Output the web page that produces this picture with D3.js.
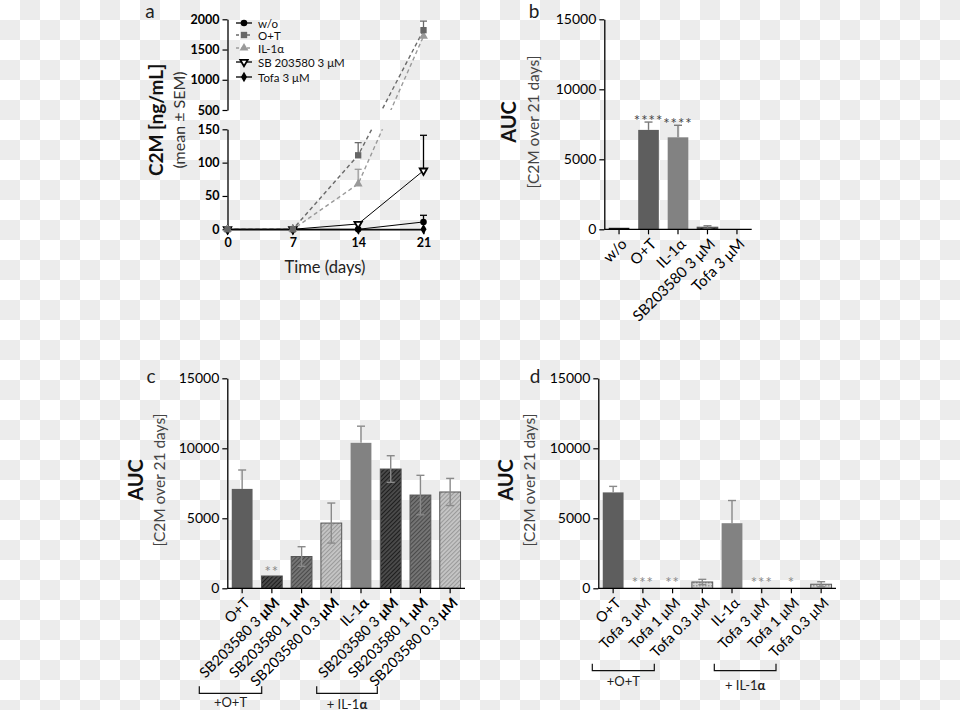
<!DOCTYPE html>
<html><head><meta charset="utf-8">
<script src="https://cdn.jsdelivr.net/npm/d3@7"></script>
<style>
body{margin:0;background:#fff}
svg{display:block}
text{font-family:Lato,"Open Sans",sans-serif}
</style></head>
<body><svg id="fig" width="960" height="710"></svg>
<script>
// ---------------- DATA ----------------
const days = [0, 7, 14, 21];
const legendNames = ["w/o", "O+T", "IL-1α", "SB 203580 3 μM", "Tofa 3 μM"];
const woVals   = [0, 0, 0, 11];    const woErr   = [0, 0, 0, 10];
const otVals   = [0, 0, 111, 1820]; const otErr   = [0, 0, 19, 150];
const ilVals   = [0, 0, 68, 1720];  const ilErr   = [0, 0, 22, 0];
const sbVals   = [0, 0, 8, 88];     const sbErr   = [0, 0, 0, 53];
const tofaVals = [0, 0, 0, 0];      const tofaErr = [0, 0, 0, 0];
const aLowTicks = [0, 50, 100, 150];
const aHighTicks = [500, 1000, 1500, 2000];

const bCats  = ["w/o", "O+T", "IL-1α", "SB203580 3 μM", "Tofa 3 μM"];
const bVals  = [60, 7100, 6570, 150, 0];
const bErr   = [0, 560, 860, 100, 0];
const bStars = ["", "****", "****", "", ""];

const cCats  = ["O+T", "SB203580 3 μM", "SB203580 1 μM", "SB203580 0.3 μM", "IL-1α", "SB203580 3 μM", "SB203580 1 μM", "SB203580 0.3 μM"];
const cVals  = [7100, 880, 2270, 4660, 10390, 8520, 6660, 6880];
const cErr   = [1350, 0, 700, 1430, 1190, 950, 1410, 970];
const cStars = ["", "**", "", "", "", "", "", ""];

const dCats  = ["O+T", "Tofa 3 μM", "Tofa 1 μM", "Tofa 0.3 μM", "IL-1α", "Tofa 3 μM", "Tofa 1 μM", "Tofa 0.3 μM"];
const dVals  = [6850, 0, 0, 450, 4650, 0, 0, 290];
const dErr   = [430, 0, 0, 190, 1620, 0, 0, 180];
const dStars = ["", "***", "**", "", "", "***", "*", ""];

const aucTicks = [0, 5000, 10000, 15000];
const groupLabels = ["+O+T", "+ IL-1α"];

// ---------------- SETUP ----------------
const svg = d3.select("#fig");
const defs = svg.append("defs");
const chk = defs.append("pattern").attr("id", "chk").attr("patternUnits", "userSpaceOnUse").attr("width", 40).attr("height", 40);
chk.append("rect").attr("width", 40).attr("height", 40).attr("fill", "#fff");
chk.append("rect").attr("x", 20).attr("width", 20).attr("height", 20).attr("fill", "#ececec");
chk.append("rect").attr("y", 20).attr("width", 20).attr("height", 20).attr("fill", "#ececec");
svg.append("rect").attr("width", 960).attr("height", 710).attr("fill", "url(#chk)");

function hatch(id, bg, fg, size, w) {
  const p = defs.append("pattern").attr("id", id).attr("patternUnits", "userSpaceOnUse")
    .attr("width", size).attr("height", size).attr("patternTransform", "rotate(45)");
  p.append("rect").attr("width", size).attr("height", size).attr("fill", bg);
  p.append("line").attr("x1", 0.5).attr("y1", 0).attr("x2", 0.5).attr("y2", size).attr("stroke", fg).attr("stroke-width", w);
}
hatch("hDark", "#4c4c4c", "#1e1e1e", 3, 1.2);
hatch("hMid", "#767676", "#4a4a4a", 3, 1.2);
hatch("hLight", "#c6c6c6", "#9a9a9a", 3, 1.2);
const cx = defs.append("pattern").attr("id", "hCross").attr("patternUnits", "userSpaceOnUse").attr("width", 3).attr("height", 3);
cx.append("rect").attr("width", 3).attr("height", 3).attr("fill", "#d2d2d2");
cx.append("rect").attr("width", 1.5).attr("height", 1.5).attr("fill", "#9c9c9c");

const fmt = d3.format("d");
function styleAxis(g, fs, bold) {
  g.selectAll(".domain").attr("stroke", "#000").attr("stroke-width", 1.3);
  g.selectAll(".tick line").attr("stroke", "#000").attr("stroke-width", 1.2);
  g.selectAll(".tick text").attr("font-size", fs).attr("fill", "#000")
    .attr("font-weight", bold ? "bold" : "normal").style("font-family", "Lato, 'Open Sans', sans-serif");
}
function rich(sel, str, boldSpecial) {
  str.split(/(μM|α)/).forEach(p => {
    if (!p) return;
    const t = sel.append("tspan").text(p);
    if (boldSpecial && (p === "μM" || p === "α")) t.attr("font-weight", "bold");
  });
}
function vTitle(x, y, txt, fs, bold, fill) {
  svg.append("text").attr("transform", `translate(${x},${y}) rotate(-90)`).attr("text-anchor", "middle")
    .attr("dominant-baseline", "central").attr("font-size", fs).attr("font-weight", bold ? "bold" : "normal")
    .attr("fill", fill).text(txt);
}
function panelLetter(x, y, t) {
  svg.append("text").attr("x", x).attr("y", y).attr("font-size", 19).attr("fill", "#222").attr("text-anchor", "middle").text(t);
}

// ---------------- PANEL A ----------------
const xA = d3.scaleLinear().domain([0, 21]).range([227.5, 423.5]);
const yLow = d3.scaleLinear().domain([0, 150]).range([229.3, 129.3]);
const yHigh = d3.scaleLinear().domain([500, 2000]).range([110, 19.3]);
const yA = v => v <= 150 ? yLow(v) : yHigh(v);

const clip = defs.append("clipPath").attr("id", "aclip");
clip.append("rect").attr("x", 200).attr("y", 0).attr("width", 260).attr("height", yHigh(500));
clip.append("rect").attr("x", 200).attr("y", yLow(150)).attr("width", 260).attr("height", 120);

const gLow = svg.append("g").attr("transform", `translate(${xA(0)},0)`)
  .call(d3.axisLeft(yLow).tickValues(aLowTicks).tickFormat(fmt).tickSize(5).tickSizeOuter(0).tickPadding(3));
styleAxis(gLow, 12.5, true);
const gHigh = svg.append("g").attr("transform", `translate(${xA(0)},0)`)
  .call(d3.axisLeft(yHigh).tickValues(aHighTicks).tickFormat(fmt).tickSize(5).tickSizeOuter(0).tickPadding(3));
styleAxis(gHigh, 12.5, true);
const gxA = svg.append("g").attr("transform", `translate(0,${yLow(0)})`)
  .call(d3.axisBottom(xA).tickValues(days).tickSize(5).tickSizeOuter(0).tickPadding(4));
styleAxis(gxA, 12.5, true);

const seriesA = [
  {vals: woVals, err: woErr, color: "#000", dash: null, sym: d3.symbolCircle, size: 34, fill: "#000", sw: 1, rot: 0},
  {vals: otVals, err: otErr, color: "#6a6a6a", dash: "4,3", sym: d3.symbolSquare, size: 40, fill: "#666", sw: 1.4, rot: 0},
  {vals: ilVals, err: ilErr, color: "#9a9a9a", dash: "4,3", sym: d3.symbolTriangle, size: 34, fill: "#9a9a9a", sw: 1.4, rot: 0},
  {vals: sbVals, err: sbErr, color: "#000", dash: null, sym: d3.symbolTriangle, size: 24, fill: "#fff", sw: 1, rot: 180},
  {vals: tofaVals, err: tofaErr, color: "#000", dash: null, sym: d3.symbolDiamond, size: 32, fill: "#000", sw: 1, rot: 0}
];
const aPlot = svg.append("g").attr("clip-path", "url(#aclip)");
const lineA = d3.line().x((d, i) => xA(days[i])).y(d => yA(d));
seriesA.forEach(s => {
  aPlot.append("path").attr("d", lineA(s.vals)).attr("fill", "none").attr("stroke", s.color)
    .attr("stroke-width", s.sw).attr("stroke-dasharray", s.dash);
});
seriesA.forEach(s => {
  s.vals.forEach((v, i) => {
    if (!s.err[i]) return;
    const x = xA(days[i]), y1 = yA(v), y2 = yA(v + s.err[i]);
    svg.append("line").attr("x1", x).attr("x2", x).attr("y1", y1).attr("y2", y2).attr("stroke", s.color).attr("stroke-width", 1.3);
    svg.append("line").attr("x1", x - 3.5).attr("x2", x + 3.5).attr("y1", y2).attr("y2", y2).attr("stroke", s.color).attr("stroke-width", 1.3);
  });
});
function marker(g, s, x, y) {
  const p = g.append("path").attr("d", d3.symbol(s.sym, s.size)())
    .attr("transform", `translate(${x},${y}) rotate(${s.rot})`).attr("fill", s.fill);
  if (s.fill === "#fff") p.attr("stroke", "#000").attr("stroke-width", 1.8);
}
[0, 4, 3, 2, 1].forEach(k => {
  const s = seriesA[k];
  s.vals.forEach((v, i) => marker(svg, s, xA(days[i]), yA(v)));
});
// legend
const legY = [23, 35, 48, 62, 77];
legendNames.forEach((n, i) => {
  const s = seriesA[i];
  svg.append("line").attr("x1", 236).attr("x2", 252).attr("y1", legY[i]).attr("y2", legY[i])
    .attr("stroke", s.color).attr("stroke-width", s.dash ? 1.4 : 1.3).attr("stroke-dasharray", s.dash ? "3,2.5" : null);
  marker(svg, s, 244, legY[i]);
  svg.append("text").attr("x", 258).attr("y", legY[i]).attr("dominant-baseline", "central")
    .attr("font-size", 11.5).attr("fill", "#111").text(n);
});
vTitle(155, 120, "C2M [ng/mL]", 19, true, "#111");
vTitle(178, 120, "(mean ± SEM)", 16, false, "#333");
svg.append("text").attr("x", 325).attr("y", 273).attr("text-anchor", "middle").attr("font-size", 16.5).attr("fill", "#222").text("Time (days)");
panelLetter(150, 18, "a");

// ---------------- BAR PANEL FUNCTION ----------------
function barPanel(opt) {
  const y = d3.scaleLinear().domain([0, 15000]).range([opt.y0, opt.y0 - 210]);
  const x = d3.scaleBand().domain(d3.range(opt.cats.length)).range([opt.x0, opt.x1]).paddingInner(0.3).paddingOuter(0.15);
  const gy = svg.append("g").attr("transform", `translate(${opt.x0},0)`)
    .call(d3.axisLeft(y).tickValues(aucTicks).tickFormat(fmt).tickSize(5).tickSizeOuter(0).tickPadding(3));
  styleAxis(gy, 14, false);
  opt.vals.forEach((v, i) => {
    const fill = opt.fills[i];
    const hatched = fill.startsWith("url");
    const h = Math.max(y(0) - y(v), v > 0 ? 1.5 : 0);
    if (h > 0) svg.append("rect").attr("x", x(i)).attr("width", x.bandwidth()).attr("y", y(0) - h).attr("height", h)
      .attr("fill", fill).attr("stroke", hatched ? "#555" : "none").attr("stroke-width", 1);
    const e = opt.err[i];
    if (e) {
      const c = x(i) + x.bandwidth() / 2;
      const ylo = hatched ? y(v - e) : y(v);
      svg.append("line").attr("x1", c).attr("x2", c).attr("y1", ylo).attr("y2", y(v + e)).attr("stroke", opt.errColor).attr("stroke-width", 1.4);
      svg.append("line").attr("x1", c - 4).attr("x2", c + 4).attr("y1", y(v + e)).attr("y2", y(v + e)).attr("stroke", opt.errColor).attr("stroke-width", 1.4);
      if (hatched) svg.append("line").attr("x1", c - 4).attr("x2", c + 4).attr("y1", ylo).attr("y2", ylo).attr("stroke", opt.errColor).attr("stroke-width", 1.4);
    }
    if (opt.stars[i]) {
      svg.append("text").attr("x", x(i) + x.bandwidth() / 2).attr("y", y(v + e) + opt.starDy).attr("text-anchor", "middle")
        .attr("font-size", 15).attr("letter-spacing", 1).attr("fill", opt.starColor).text(opt.stars[i]);
    }
  });
  const gx = svg.append("g").attr("transform", `translate(0,${opt.y0})`)
    .call(d3.axisBottom(x).tickSize(5).tickSizeOuter(0).tickFormat(""));
  styleAxis(gx, 12, false);
  gx.select(".domain").attr("d", `M${opt.x0},0H${opt.x1}`);
  opt.cats.forEach((c, i) => {
    const t = svg.append("text").attr("transform", `translate(${x(i) + x.bandwidth() / 2 + 5},${opt.y0 + 12}) rotate(-45)`)
      .attr("text-anchor", "end").attr("dy", "0.35em").attr("font-size", opt.labelSize).attr("fill", "#000");
    rich(t, c, opt.boldSpecial);
  });
  return x;
}

// ---------------- PANEL B ----------------
barPanel({x0: 604.3, x1: 751.7, y0: 229.3, cats: bCats, vals: bVals, err: bErr, stars: bStars, labelSize: 15, starDy: 4,
  fills: ["#111", "#5e5e5e", "#828282", "url(#hDark)", "#333"], errColor: "#7a7a7a", starColor: "#444", boldSpecial: false});
vTitle(508, 122, "AUC", 20, true, "#111");
vTitle(533, 122, "[C2M over 21 days]", 15.5, false, "#444");
panelLetter(534, 18, "b");

// ---------------- PANEL C ----------------
barPanel({x0: 227.3, x1: 465, y0: 588.3, cats: cCats, vals: cVals, err: cErr, stars: cStars, labelSize: 14.5, starDy: 1,
  fills: ["#5e5e5e", "url(#hDark)", "url(#hMid)", "url(#hLight)", "#828282", "url(#hDark)", "url(#hMid)", "url(#hLight)"],
  errColor: "#8a8a8a", starColor: "#8a8a8a", boldSpecial: true});
vTitle(135, 480, "AUC", 20, true, "#111");
vTitle(159, 480, "[C2M over 21 days]", 15.5, false, "#444");
panelLetter(151, 383, "c");

// ---------------- PANEL D ----------------
barPanel({x0: 598.3, x1: 836, y0: 588.3, cats: dCats, vals: dVals, err: dErr, stars: dStars, labelSize: 14.5, starDy: 0,
  fills: ["#5e5e5e", "#888", "#888", "url(#hCross)", "#828282", "#888", "#888", "url(#hCross)"],
  errColor: "#8a8a8a", starColor: "#8a8a8a", boldSpecial: false});
vTitle(505, 480, "AUC", 20, true, "#111");
vTitle(529, 480, "[C2M over 21 days]", 15.5, false, "#444");
panelLetter(535, 383, "d");

// ---------------- BRACKETS ----------------
function bracket(x1, x2, yb, label, ty) {
  svg.append("path").attr("d", `M${x1},${yb - 7}V${yb}H${x2}V${yb - 7}`).attr("fill", "none").attr("stroke", "#111").attr("stroke-width", 1.2);
  const t = svg.append("text").attr("x", (x1 + x2) / 2).attr("y", ty).attr("text-anchor", "middle").attr("font-size", 13).attr("fill", "#222");
  rich(t, label, true);
}
bracket(199.3, 261.7, 693.3, groupLabels[0], 707);
bracket(316.7, 377.3, 693.3, groupLabels[1], 709);
bracket(592.3, 654.3, 670.7, groupLabels[0], 686);
bracket(714.3, 776, 670.7, groupLabels[1], 690);
</script></body></html>
